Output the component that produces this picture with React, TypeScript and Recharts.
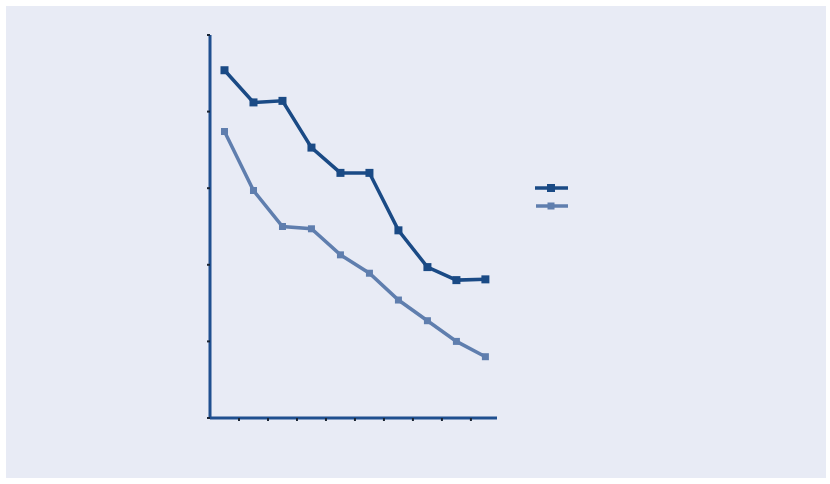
import React from 'react';
import { LineChart, Line, XAxis, YAxis } from 'recharts';

const positions = [0.5, 1.5, 2.5, 3.5, 4.5, 5.5, 6.5, 7.5, 8.5, 9.5];
const seriesA = [4.54, 4.12, 4.14, 3.53, 3.2, 3.2, 2.45, 1.97, 1.8, 1.81];
const seriesB = [3.74, 2.97, 2.5, 2.47, 2.13, 1.89, 1.54, 1.27, 1.0, 0.8];
const xTicks = [1, 2, 3, 4, 5, 6, 7, 8, 9];
const yTicks = [0, 1, 2, 3, 4, 5];

const data = positions.map((x, i) => ({ x, a: seriesA[i], b: seriesB[i] }));

const DARK = '#1a4a85';
const LIGHT = '#5f7eae';
const AXIS = '#1f4f8f';

const squareDot = (color: string, size: number) => (props: any) => {
  const { cx, cy, index } = props;
  if (cx == null || cy == null) return null;
  return (
    <rect
      key={`d-${index}`}
      x={cx - size / 2}
      y={cy - size / 2}
      width={size}
      height={size}
      fill={color}
    />
  );
};

export default function App() {
  return (
    <div style={{ position: 'fixed', left: 0, top: 0, width: 830, height: 484, background: '#ffffff' }}>
      <div
        style={{
          position: 'absolute',
          left: 6,
          top: 6,
          width: 820,
          height: 472,
          background: '#e8ebf5',
        }}
      />
      <div style={{ position: 'absolute', left: 0, top: 0 }}>
        <LineChart
          width={830}
          height={484}
          data={data}
          margin={{ top: 35, right: 333, bottom: 56, left: 200 }}
        >
          <XAxis
            dataKey="x"
            type="number"
            domain={[0, 9.9]}
            ticks={xTicks}
            height={10}
            tickFormatter={() => ''}
            axisLine={{ stroke: AXIS, strokeWidth: 3 }}
            tickLine={{ stroke: '#1a2535', strokeWidth: 2 }}
            tickSize={3}
            allowDataOverflow
          />
          <YAxis
            type="number"
            domain={[0, 5]}
            ticks={yTicks}
            width={10}
            tickFormatter={() => ''}
            axisLine={{ stroke: AXIS, strokeWidth: 3 }}
            tickLine={{ stroke: '#1a2535', strokeWidth: 2 }}
            tickSize={3}
          />
          <Line
            dataKey="b"
            stroke={LIGHT}
            strokeWidth={3.5}
            dot={squareDot(LIGHT, 7)}
            activeDot={false}
            isAnimationActive={false}
          />
          <Line
            dataKey="a"
            stroke={DARK}
            strokeWidth={3.5}
            dot={squareDot(DARK, 8)}
            activeDot={false}
            isAnimationActive={false}
          />
        </LineChart>
      </div>
      <svg
        style={{ position: 'absolute', left: 530, top: 178 }}
        width={45}
        height={40}
      >
        <line x1={5} y1={10} x2={38} y2={10} stroke={DARK} strokeWidth={3.5} />
        <rect x={17} y={6} width={8} height={8} fill={DARK} />
        <line x1={6} y1={28} x2={38} y2={28} stroke={LIGHT} strokeWidth={3.5} />
        <rect x={17.5} y={24.5} width={7} height={7} fill={LIGHT} />
      </svg>
    </div>
  );
}
